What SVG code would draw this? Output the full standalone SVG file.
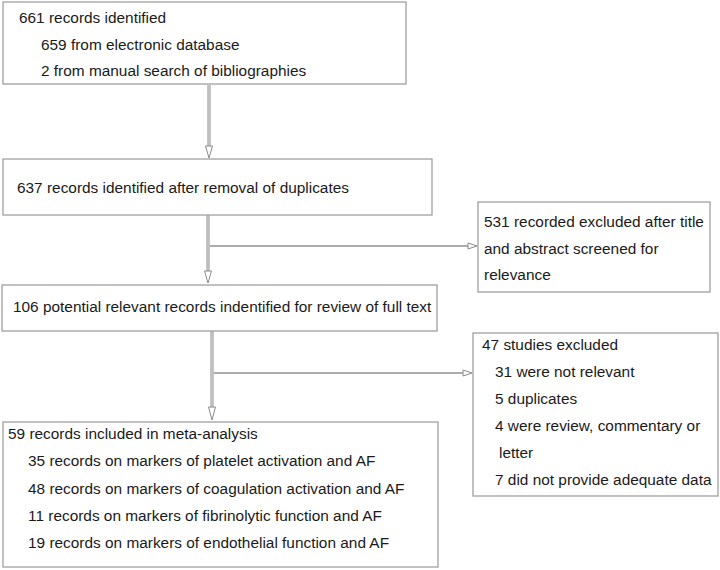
<svg xmlns="http://www.w3.org/2000/svg" width="720" height="570" viewBox="0 0 720 570">
<style>
.box{fill:#fff;stroke:#a0a0a0;stroke-width:1.3}
text{font-family:"Liberation Sans",Arial,sans-serif;font-size:15.4px;fill:#1a1a1a}
.sh{stroke:#8c8c8c;stroke-width:3;fill:none}
.si{stroke:#f2f2f2;stroke-width:1;fill:none}
.hl{stroke:#909090;stroke-width:1.6;fill:none}
.ah{fill:#fff;stroke:#8a8a8a;stroke-width:1}
</style>
<rect width="720" height="570" fill="#fff"/>
<g id="connectors">
  <line class="sh" x1="209" y1="85" x2="209" y2="148"/>
  <line class="si" x1="209" y1="85" x2="209" y2="148"/>
  <polygon class="ah" points="205.5,146 212.5,146 209,158"/>
  <line class="sh" x1="208" y1="215" x2="208" y2="273"/>
  <line class="si" x1="208" y1="215" x2="208" y2="273"/>
  <polygon class="ah" points="204.5,271 211.5,271 208,283"/>
  <line class="hl" x1="210" y1="246" x2="469" y2="246"/>
  <polygon class="ah" points="468,243 468,249 477,246"/>
  <line class="sh" x1="212" y1="331" x2="212" y2="409"/>
  <line class="si" x1="212" y1="331" x2="212" y2="409"/>
  <polygon class="ah" points="208.5,407 215.5,407 212,420"/>
  <line class="hl" x1="214" y1="373" x2="464" y2="373"/>
  <polygon class="ah" points="463,370 463,376 472,373"/>
</g>
<g id="n1">
  <rect class="box" x="3" y="2" width="403" height="82"/>
  <text x="19" y="23">661 records identified</text>
  <text x="41" y="50">659 from electronic database</text>
  <text x="41" y="76">2 from manual search of bibliographies</text>
</g>
<g id="n2">
  <rect class="box" x="3" y="159" width="429" height="56"/>
  <text x="17" y="193">637 records identified after removal of duplicates</text>
</g>
<g id="n3">
  <rect class="box" x="478" y="202" width="232" height="90"/>
  <text x="484" y="227">531 recorded excluded after title</text>
  <text x="484" y="254">and abstract screened for</text>
  <text x="484" y="280">relevance</text>
</g>
<g id="n4">
  <rect class="box" x="2" y="285" width="435" height="46"/>
  <text x="13" y="312">106 potential relevant records indentified for review of full text</text>
</g>
<g id="n5">
  <rect class="box" x="473" y="333" width="245" height="163"/>
  <text x="482" y="350">47 studies excluded</text>
  <text x="495" y="377">31 were not relevant</text>
  <text x="495" y="404">5 duplicates</text>
  <text x="495" y="431">4 were review, commentary or</text>
  <text x="499" y="458">letter</text>
  <text x="495" y="485">7 did not provide adequate data</text>
</g>
<g id="n6">
  <rect class="box" x="3" y="422" width="435" height="145"/>
  <text x="8" y="439">59 records included in meta-analysis</text>
  <text x="28" y="466">35 records on markers of platelet activation and AF</text>
  <text x="28" y="494">48 records on markers of coagulation activation and AF</text>
  <text x="28" y="521">11 records on markers of fibrinolytic function and AF</text>
  <text x="28" y="548">19 records on markers of endothelial function and AF</text>
</g>
</svg>
